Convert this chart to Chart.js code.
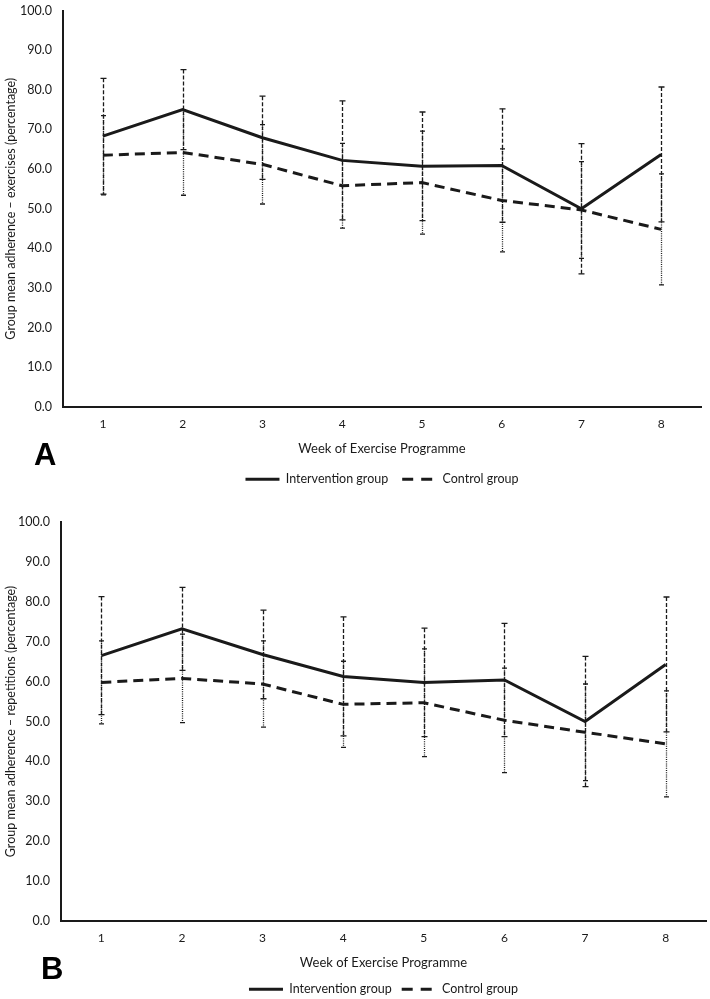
<!DOCTYPE html>
<html><head><meta charset="utf-8">
<script src="https://cdn.jsdelivr.net/npm/chart.js@4/dist/chart.umd.min.js"></script>
<style>
html,body{margin:0;padding:0;background:#fff;width:710px;height:999px;overflow:hidden;}
.wrap{position:absolute;left:0;width:710px;}
#wa{top:0;height:500px;}
#wb{top:500px;height:499px;}
.lbl{position:absolute;font-family:"Liberation Sans",Arial,sans-serif;font-weight:bold;font-size:31px;line-height:31px;color:#000;}
</style></head><body>
<div class="wrap" id="wa"><canvas id="ca" width="710" height="500"></canvas></div>
<div class="wrap" id="wb"><canvas id="cb" width="710" height="499"></canvas></div>
<div class="lbl" style="left:34px;top:439px">A</div>
<div class="lbl" style="left:41px;top:953px">B</div>
<script>
// ---- data ----
const weeks = ['1','2','3','4','5','6','7','8'];
const seriesNames = ['Intervention group','Control group'];
const xTitle = 'Week of Exercise Programme';
const yTitleA = 'Group mean adherence \u2013 exercises (percentage)';
const yTitleB = 'Group mean adherence \u2013 repetitions (percentage)';
const yTickValues = [0,10,20,30,40,50,60,70,80,90,100];

const exInterventionMean = [68.3,75.0,67.9,62.2,60.7,60.9,50.0,63.7];
const exInterventionSD   = [14.6,10.1,10.5,15.0,13.7,14.3,16.4,17.0];
const exControlMean      = [63.5,64.2,61.2,55.8,56.6,52.1,49.7,44.8];
const exControlSD        = [10.0,10.8,10.0,10.7,13.0,13.0,12.2,14.0];

const repInterventionMean = [66.5,73.2,66.8,61.3,59.8,60.4,50.0,64.3];
const repInterventionSD   = [14.8,10.4,11.1,14.9,13.6,14.2,16.3,16.9];
const repControlMean      = [59.8,60.8,59.4,54.3,54.7,50.3,47.3,44.4];
const repControlSD        = [10.4,11.1,10.8,10.8,13.5,13.1,12.1,13.3];

// ---- styling ----
const FONT = 'Lato, "Open Sans", sans-serif';
const INK = '#1a1a1a';

const errorBars = {
  id: 'errorBars',
  beforeDatasetsDraw(chart) {
    const ctx = chart.ctx, xs = chart.scales.x, ys = chart.scales.y;
    chart.data.datasets.forEach((ds) => {
      ctx.save();
      ctx.strokeStyle = INK;
      ctx.lineWidth = ds.errWidth;
      ds.data.forEach((v, j) => {
        const px = Math.round(xs.getPixelForValue(j)) + 0.5;
        const top = ys.getPixelForValue(v + ds.sd[j]);
        const bot = ys.getPixelForValue(v - ds.sd[j]);
        ctx.setLineDash(ds.errDash);
        ctx.beginPath(); ctx.moveTo(px, top); ctx.lineTo(px, bot); ctx.stroke();
        ctx.setLineDash([]);
        ctx.beginPath();
        ctx.moveTo(px - ds.capW, top); ctx.lineTo(px + ds.capW, top);
        ctx.moveTo(px - ds.capW, bot); ctx.lineTo(px + ds.capW, bot);
        ctx.stroke();
      });
      ctx.restore();
    });
  }
};

function makeChart(id, intMean, intSD, ctlMean, ctlSD, yTitle, area, xH, legPad) {
  const cfg = {
    type: 'line',
    data: {
      labels: weeks,
      datasets: [
        { label: seriesNames[0], data: intMean, sd: intSD, borderColor: INK, backgroundColor: INK,
          borderWidth: 3, pointRadius: 0, pointStyle: 'line', tension: 0,
          errDash: [4, 2], errWidth: 1.3, capW: 3, legendDash: [] },
        { label: seriesNames[1], data: ctlMean, sd: ctlSD, borderColor: INK, backgroundColor: INK,
          borderWidth: 3, borderDash: [10, 6], pointRadius: 0, pointStyle: 'line', tension: 0,
          errDash: [1, 1.2], errWidth: 1.3, capW: 2.5, legendDash: [11, 8] }
      ]
    },
    options: {
      responsive: false, animation: false, devicePixelRatio: 1,
      layout: { padding: { top: area.top, right: area.right, left: 0, bottom: 4 } },
      plugins: {
        tooltip: { enabled: false },
        legend: {
          position: 'bottom', fullSize: false,
          labels: {
            usePointStyle: true, pointStyle: 'line', pointStyleWidth: 34, color: INK,
            font: { family: FONT, size: 12.5 }, padding: legPad,
            generateLabels(chart) {
              const items = Chart.defaults.plugins.legend.labels.generateLabels(chart);
              items.forEach((it, i) => {
                it.lineDash = chart.data.datasets[i].legendDash || [];
                it.lineWidth = 3;
                it.strokeStyle = INK;
              });
              return items;
            }
          }
        }
      },
      scales: {
        x: {
          offset: true,
          grid: { display: false, offset: true },
          border: { display: true, color: INK, width: 2 },
          ticks: { color: INK, font: { family: FONT, size: 12 }, padding: 2 },
          title: { display: true, text: xTitle, color: INK, font: { family: FONT, size: 13 }, padding: { top: 4, bottom: 2 } },
          afterFit(s) { s.height = xH; }
        },
        y: {
          min: 0, max: 100,
          afterBuildTicks(s) { s.ticks = yTickValues.map(v => ({ value: v })); },
          grid: { display: false },
          border: { display: true, color: INK, width: 2 },
          ticks: { color: INK, font: { family: FONT, size: 12.5 }, padding: 3, callback: v => Number(v).toFixed(1) },
          title: { display: true, text: yTitle, color: INK, font: { family: FONT, size: 12.5 }, padding: { top: 3, bottom: 0 } },
          afterFit(s) { s.width = area.left; }
        }
      }
    },
    plugins: [errorBars]
  };
  const ch = new Chart(document.getElementById(id), cfg);
  // fine-tune bottom padding so the plot area ends where desired
  const d = ch.chartArea.bottom - area.bottom;
  ch.options.layout.padding.bottom = 4 + d;
  ch.update();
  return ch;
}

makeChart('ca', exInterventionMean, exInterventionSD, exControlMean, exControlSD, yTitleA,
  { top: 10, left: 63, right: 9, bottom: 407 }, 52, 14);
makeChart('cb', repInterventionMean, repInterventionSD, repControlMean, repControlSD, yTitleB,
  { top: 22, left: 61, right: 4, bottom: 421 }, 52, 10);
</script>
</body></html>
